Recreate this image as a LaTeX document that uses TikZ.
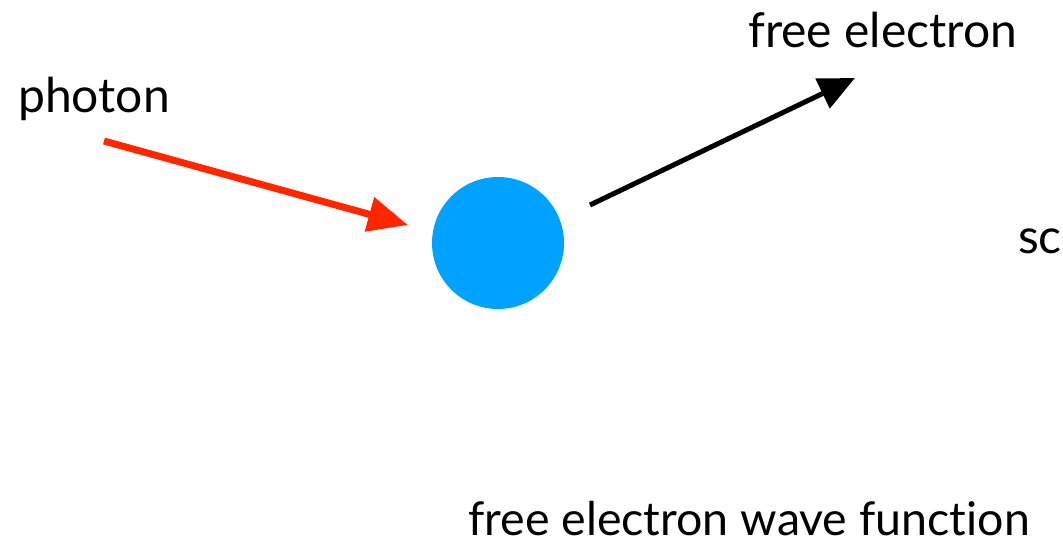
\documentclass[tikz,border=0pt]{standalone}
\usepackage{fontspec}
\setmainfont{Lato}[Ligatures={NoCommon}]
\usetikzlibrary{arrows.meta}
\definecolor{photonred}{RGB}{255,38,0}
\definecolor{eblue}{RGB}{0,162,255}
\tikzset{
  lbl/.style={anchor=base west, inner sep=0pt, font=\fontsize{48}{56}\selectfont},
  photonarrow/.style={draw=photonred, line width=7pt, -{Triangle[length=40pt,width=34pt]}},
  electronarrow/.style={draw=black, line width=5pt, -{Triangle[length=36pt,width=32pt]}},
}
\begin{document}
\begin{tikzpicture}[x=1pt,y=-1pt]
\useasboundingbox (0,0) rectangle (1063,543);
\clip (0,0) rectangle (1063,543);
\node[circle, fill=eblue, minimum size=132pt, inner sep=0pt] (e) at (498,243) {};
\coordinate (ps) at (104,141);
\coordinate (pt) at (408,225);
\coordinate (es) at (590,205);
\coordinate (et) at (855,78);
\draw[photonarrow] (ps) -- (pt);
\draw[electronarrow] (es) -- (et);
\node[lbl] (photon) at (18,112) {photon};
\node[lbl] (fe) at (748,48) {free electron};
\node[lbl] (sc) at (1018,253) {sc};
\node[lbl, font=\fontsize{46.5}{56}\selectfont] (wf) at (468,535) {free electron wave function};
\end{tikzpicture}
\end{document}
